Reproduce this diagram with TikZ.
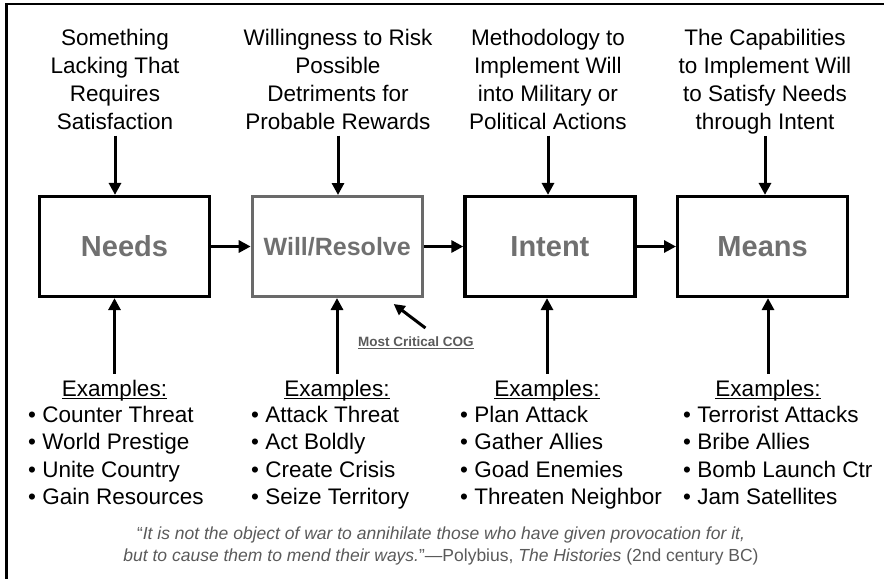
\documentclass[tikz,border=0pt]{standalone}
\usepackage{fontspec}
\setmainfont{Liberation Sans}
\usetikzlibrary{arrows.meta,positioning}
\definecolor{labelgray}{HTML}{707070}
\definecolor{willgray}{HTML}{6A6A6A}
\definecolor{quotegray}{HTML}{5A5A5A}
% underline that runs through the descenders
\newcommand\ulbox[1]{\setbox0\hbox{#1}\rlap{\rule[-2.8pt]{\wd0}{1.3pt}}\box0}

\begin{document}
\begin{tikzpicture}[x=1pt,y=-1pt,node distance=212.7pt,on grid,
    every node/.style={inner sep=0pt},
    stage/.style={draw,line width=3.2pt,minimum width=170pt,minimum height=100pt,
      text=labelgray,font=\fontsize{29}{34}\selectfont\bfseries},
    cue/.style={align=center,anchor=north,font=\fontsize{22.5}{28}\selectfont},
    exhead/.style={anchor=base,font=\fontsize{22.5}{28}\selectfont},
    exlist/.style={align=left,anchor=north west,font=\fontsize{22.5}{27.6}\selectfont},
    arr/.style={line width=3pt,-{Triangle[length=12pt,width=12pt]}}]
  \useasboundingbox (0,0) rectangle (884,579);
  \draw[line width=2.8pt] (884,4) -| (6.5,579);

  % the four stages
  \node[stage] (needs) at (124.5,246.5) {Needs};
  \node[stage,draw=willgray,line width=3pt,font=\fontsize{25}{30}\selectfont\bfseries] (will) [right=of needs] {Will/Resolve};
  \node[stage] (intent) [right=of will] {Intent};
  \node[stage] (means) [right=of intent] {Means};

  \draw[arr] (needs.east) -- (will.west);
  \draw[arr] (will.east) -- (intent.west);
  \draw[arr] (intent.east) -- (means.west);

  % definitions above
  \node[cue] (lack) at (115,28.6) {Something\\Lacking That\\Requires\\Satisfaction};
  \node[cue] (risk) at (338,28.6) {Willingness to Risk\\Possible\\Detriments for\\Probable Rewards};
  \node[cue] (method) at (548,28.6) {Methodology to\\Implement Will\\into Military or\\Political Actions};
  \node[cue] (capab) at (765,28.6) {The Capabilities\\to Implement Will\\to Satisfy Needs\\through Intent};

  \draw[arr] ([yshift=-6pt]lack.south) -- (lack.south |- needs.north);
  \draw[arr] ([yshift=-6pt]risk.south) -- (risk.south |- will.north);
  \draw[arr] ([yshift=-6pt]method.south) -- (method.south |- intent.north);
  \draw[arr] ([yshift=-2pt]capab.south) -- (capab.south |- means.north);

  % examples below
  \node[exhead] (ex1) at (114.5,396) {\ulbox{Examples:}};
  \node[exhead] (ex2) at (337,396) {\ulbox{Examples:}};
  \node[exhead] (ex3) at (547,396) {\ulbox{Examples:}};
  \node[exhead] (ex4) at (768,396) {\ulbox{Examples:}};

  \node[exlist] (list1) at (28,405.6) {• Counter Threat\\• World Prestige\\• Unite Country\\• Gain Resources};
  \node[exlist] (list2) at (251,405.6) {• Attack Threat\\• Act Boldly\\• Create Crisis\\• Seize Territory};
  \node[exlist] (list3) at (460,405.6) {• Plan Attack\\• Gather Allies\\• Goad Enemies\\• Threaten Neighbor};
  \node[exlist] (list4) at (683,405.6) {• Terrorist Attacks\\• Bribe Allies\\• Bomb Launch Ctr\\• Jam Satellites};

  \draw[arr] ([yshift=6pt]ex1.north) -- (ex1.north |- needs.south);
  \draw[arr] ([yshift=6pt]ex2.north) -- (ex2.north |- will.south);
  \draw[arr] ([yshift=6pt]ex3.north) -- (ex3.north |- intent.south);
  \draw[arr] ([yshift=6pt]ex4.north) -- (ex4.north |- means.south);

  % critical centre of gravity
  \node[anchor=base west,text=quotegray,font=\fontsize{13.5}{16}\selectfont\bfseries] (cog) at (358,346) {\ulbox{Most Critical COG}};
  \coordinate (cogtip) at ([xshift=-30pt,yshift=-6pt]will.south east);
  \draw[line width=3pt,-{Triangle[length=11pt,width=11pt]}] ([xshift=9.5pt,yshift=8pt]cog.north) -- (cogtip);

  \node[align=center,anchor=north,text=quotegray,font=\fontsize{17.5}{22}\selectfont] (quote) at (441,526.2)
    {“\textit{It is not the object of war to annihilate those who have given provocation for it,}\\
     \textit{but to cause them to mend their ways.}”—Polybius, \textit{The Histories} (2nd century BC)};
\end{tikzpicture}
\end{document}
